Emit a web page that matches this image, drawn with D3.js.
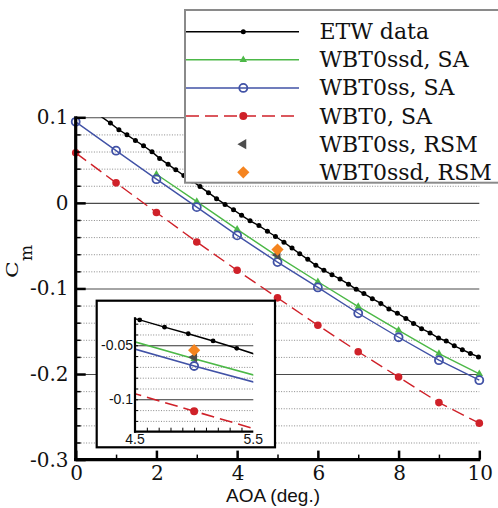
<!DOCTYPE html>
<html><head><meta charset="utf-8">
<script src="https://cdn.jsdelivr.net/npm/d3@7"></script>
<style>
html,body{margin:0;padding:0;background:#fff;}
svg{display:block;}
</style>
</head><body>
<svg id="chart" width="498" height="508"></svg>
<script>
// ---------- DATA ----------
const aoaCfd = [0,1,2,3,4,5,6,7,8,9,10];
const etwAoa = [0.45,0.86,1.07,1.27,1.48,1.68,1.89,2.08,2.29,2.48,2.68,2.89,3.08,3.29,3.49,3.70,3.91,4.11,4.32,4.54,4.75,4.95,5.16,5.36,5.55,5.75,5.95,6.15,6.35,6.55,6.76,6.95,7.14,7.35,7.56,7.76,7.97,8.18,8.37,8.57,8.78,8.99,9.18,9.38,9.58,9.78,9.98];
const etwCm  = [0.1068,0.0932,0.0854,0.0795,0.0729,0.0667,0.0596,0.052,0.045,0.0386,0.032,0.0257,0.019,0.0119,0.0049,-0.0018,-0.008,-0.0146,-0.021,-0.0265,-0.0332,-0.0393,-0.046,-0.0528,-0.0595,-0.066,-0.073,-0.0788,-0.084,-0.089,-0.095,-0.101,-0.106,-0.112,-0.1175,-0.124,-0.129,-0.135,-0.141,-0.147,-0.152,-0.158,-0.1614,-0.167,-0.1715,-0.176,-0.180];
const ssdSaAoa = [2,3,4,5,6,7,8,9,10];
const ssdSaCm  = [0.0334,0.0015,-0.031,-0.0625,-0.0922,-0.1212,-0.149,-0.1762,-0.1998];
const ssSaCm   = [0.0947,0.061,0.0277,-0.005,-0.038,-0.0692,-0.0988,-0.129,-0.157,-0.1838,-0.2072];
const t0SaCm   = [0.0585,0.0234,-0.0112,-0.0457,-0.0788,-0.111,-0.143,-0.174,-0.2035,-0.2334,-0.2574];
const ssRsmAoa = [5];
const ssRsmCm  = [-0.061];
const ssdRsmAoa = [5];
const ssdRsmCm  = [-0.0545];
const legendLabels = ["ETW data","WBT0ssd, SA","WBT0ss, SA","WBT0, SA","WBT0ss, RSM","WBT0ssd, RSM"];
const xMajorTicks = [0,2,4,6,8,10];
const xMinorTicks = [1,3,5,7,9];
const yMajorTicks = [0.1,0,-0.1,-0.2,-0.3];
const yTickLabels = ["0.1","0","-0.1","-0.2","-0.3"];
const yMinorTicks = [0.08,0.06,0.04,0.02,-0.02,-0.04,-0.06,-0.08,-0.12,-0.14,-0.16,-0.18,-0.22,-0.24,-0.26,-0.28];
const insetXTicks = [4.5,5.5];
const insetXMinor = [4.6,4.7,4.8,4.9,5.0,5.1,5.2,5.3,5.4];
const insetYMajor = [-0.05,-0.1];
const insetYLabels = ["-0.05","-0.1"];
const insetYMinor = [-0.03,-0.04,-0.06,-0.07,-0.08,-0.09,-0.11,-0.12];
const xLabel = "AOA (deg.)";
const yLabelMain = "C";
const yLabelSub = "m";

// ---------- STYLE ----------
const C = {etw:"#000000", ssd:"#4cb847", ss:"#4152a6", t0:"#cf2129", ssRsm:"#4d4d4d", ssdRsm:"#f5841f"};
const serif = "'DejaVu Serif', serif";
const sans = "'Liberation Sans', Arial, sans-serif";

const svg = d3.select("#chart");
const x = d3.scaleLinear([0,10],[75.7,479.3]);
const y = d3.scaleLinear([-0.3,0.1],[459.6,117.3]);

const defs = svg.append("defs");
defs.append("clipPath").attr("id","clipMainLine").append("rect")
  .attr("x",x(0)-6).attr("y",y(0.1)).attr("width",x(10)-x(0)+12).attr("height",y(-0.3)-y(0.1));

// grid
const W = x(10)-x(0);
const gMinor = svg.append("g").attr("transform",`translate(${x(0)},0)`)
  .call(d3.axisLeft(y).tickValues(yMinorTicks).tickSize(-W).tickFormat(""));
gMinor.select(".domain").remove();
gMinor.selectAll("line").attr("stroke","#8a8a8a").attr("stroke-width",1).attr("stroke-dasharray","1,1.6");
const gMajor = svg.append("g").attr("transform",`translate(${x(0)},0)`)
  .call(d3.axisLeft(y).tickValues(yMajorTicks).tickSize(-W).tickFormat(""));
gMajor.select(".domain").remove();
gMajor.selectAll("line").attr("stroke","#4a4a4a").attr("stroke-width",1.1);

// series drawer
function drawSeries(g, xs, ys, sx, sy, opt){
  const pts = xs.map((v,i)=>[sx(v), sy(ys[i])]);
  if(opt.line){
    g.append("path").attr("d", d3.line()(pts)).attr("fill","none")
     .attr("stroke",opt.color).attr("stroke-width",opt.lw||1.4)
     .attr("stroke-dasharray",opt.dash||null);
  }
  const m = g.append("g");
  pts.forEach(p=>{
    if(opt.marker==="dot"){
      m.append("circle").attr("cx",p[0]).attr("cy",p[1]).attr("r",opt.r).attr("fill",opt.color);
    } else if(opt.marker==="ocircle"){
      m.append("circle").attr("cx",p[0]).attr("cy",p[1]).attr("r",opt.r).attr("fill","none")
        .attr("stroke",opt.color).attr("stroke-width",opt.sw||2);
    } else if(opt.marker==="tri"){
      m.append("path").attr("d",d3.symbol(d3.symbolTriangle,opt.size)()).attr("fill",opt.color)
        .attr("transform",`translate(${p[0]},${p[1]})`);
    } else if(opt.marker==="ltri"){
      m.append("path").attr("d",d3.symbol(d3.symbolTriangle,opt.size)()).attr("fill",opt.color)
        .attr("transform",`translate(${p[0]},${p[1]}) rotate(-90)`);
    } else if(opt.marker==="diamond"){
      m.append("path").attr("d",d3.symbol(d3.symbolSquare,opt.size)()).attr("fill",opt.color)
        .attr("transform",`translate(${p[0]},${p[1]}) rotate(45)`);
    }
  });
}

const gData = svg.append("g").attr("clip-path","url(#clipMainLine)");
drawSeries(gData, etwAoa, etwCm, x, y, {line:true,color:C.etw,marker:"dot",r:2.5,lw:1.4});
drawSeries(gData, aoaCfd, t0SaCm, x, y, {line:true,color:C.t0,marker:"dot",r:3.8,lw:1.4,dash:"13,6"});
drawSeries(gData, ssdSaAoa, ssdSaCm, x, y, {line:true,color:C.ssd,marker:"tri",size:24,lw:1.4});
drawSeries(gData, aoaCfd, ssSaCm, x, y, {line:true,color:C.ss,marker:"ocircle",r:4,sw:1.8,lw:1.4});
drawSeries(gData, ssRsmAoa, ssRsmCm, x, y, {color:C.ssRsm,marker:"ltri",size:45});
drawSeries(gData, ssdRsmAoa, ssdRsmCm, x, y, {color:C.ssdRsm,marker:"diamond",size:75});

// axes
const gy = svg.append("g").attr("transform",`translate(${x(0)},0)`);
gy.call(d3.axisRight(y).tickValues(yMajorTicks).tickSize(10).tickFormat(""));
gy.selectAll("line").attr("stroke","#000").attr("stroke-width",2.5);
gy.select(".domain").remove();
const gy2 = svg.append("g").attr("transform",`translate(${x(0)},0)`);
gy2.call(d3.axisRight(y).tickValues(yMinorTicks).tickSize(5).tickFormat(""));
gy2.selectAll("line").attr("stroke","#000").attr("stroke-width",1.5);
gy2.select(".domain").remove();
const gx = svg.append("g").attr("transform",`translate(0,${y(-0.3)})`);
gx.call(d3.axisTop(x).tickValues(xMajorTicks).tickSize(9).tickFormat(""));
gx.selectAll("line").attr("stroke","#000").attr("stroke-width",2.5);
gx.select(".domain").remove();
const gx2 = svg.append("g").attr("transform",`translate(0,${y(-0.3)})`);
gx2.call(d3.axisTop(x).tickValues(xMinorTicks).tickSize(5).tickFormat(""));
gx2.selectAll("line").attr("stroke","#000").attr("stroke-width",1.5);
gx2.select(".domain").remove();

svg.append("line").attr("x1",x(0)).attr("x2",x(0)).attr("y1",y(0.1)-1).attr("y2",y(-0.3)+1.5)
  .attr("stroke","#000").attr("stroke-width",3.2);
svg.append("line").attr("x1",x(0)-1.5).attr("x2",x(10)+1).attr("y1",y(-0.3)).attr("y2",y(-0.3))
  .attr("stroke","#000").attr("stroke-width",3.2);

// tick labels
svg.append("g").selectAll("text").data(yMajorTicks).join("text")
  .attr("x",68.5).attr("y",d=>y(d)+7).attr("text-anchor","end")
  .attr("font-family",serif).attr("font-size",20).attr("fill","#111")
  .text((d,i)=>yTickLabels[i]);
svg.append("g").selectAll("text").data(xMajorTicks).join("text")
  .attr("x",d=>x(d)+1).attr("y",480).attr("text-anchor","middle")
  .attr("font-family",serif).attr("font-size",20).attr("fill","#111")
  .text(d=>d);

// axis titles
svg.append("text").attr("x",273).attr("y",502).attr("text-anchor","middle")
  .attr("font-family",sans).attr("font-size",19).attr("fill","#111").text(xLabel);
svg.append("text").attr("transform","translate(18,278) rotate(-90) scale(1.05,0.8)")
  .attr("font-family",serif).attr("font-size",21).attr("fill","#111").text(yLabelMain);
svg.append("text").attr("transform","translate(31.5,261) rotate(-90)")
  .attr("font-family",serif).attr("font-size",17).attr("fill","#111").text(yLabelSub);

// ---------- INSET ----------
svg.append("rect").attr("x",96.7).attr("y",300.7).attr("width",178.3).attr("height",146.6)
  .attr("fill","#fff").attr("stroke","#000").attr("stroke-width",2.2);
const ix = d3.scaleLinear([4.5,5.5],[135,253.3]);
const iy = d3.scaleLinear([-0.13,-0.024],[431.7,317.2]);
defs.append("clipPath").attr("id","clipInset").append("rect")
  .attr("x",ix(4.5)).attr("y",iy(-0.024)).attr("width",ix(5.5)-ix(4.5)).attr("height",iy(-0.13)-iy(-0.024));
const IW = ix(5.5)-ix(4.5);
const igMinor = svg.append("g").attr("transform",`translate(${ix(4.5)},0)`)
  .call(d3.axisLeft(iy).tickValues(insetYMinor).tickSize(-IW).tickFormat(""));
igMinor.select(".domain").remove();
igMinor.selectAll("line").attr("stroke","#8a8a8a").attr("stroke-width",1).attr("stroke-dasharray","1,1.6");
const igMajor = svg.append("g").attr("transform",`translate(${ix(4.5)},0)`)
  .call(d3.axisLeft(iy).tickValues(insetYMajor).tickSize(-IW).tickFormat(""));
igMajor.select(".domain").remove();
igMajor.selectAll("line").attr("stroke","#333").attr("stroke-width",1.1);

const giData = svg.append("g").attr("clip-path","url(#clipInset)");
drawSeries(giData, etwAoa, etwCm, ix, iy, {line:true,color:C.etw,marker:"dot",r:2.4,lw:1.5});
drawSeries(giData, aoaCfd, t0SaCm, ix, iy, {line:true,color:C.t0,marker:"dot",r:4,lw:1.6,dash:"13,6"});
drawSeries(giData, ssdSaAoa, ssdSaCm, ix, iy, {line:true,color:C.ssd,marker:"tri",size:24,lw:1.7});
drawSeries(giData, aoaCfd, ssSaCm, ix, iy, {line:true,color:C.ss,marker:"ocircle",r:4,sw:1.8,lw:1.7});
drawSeries(giData, ssRsmAoa, ssRsmCm, ix, iy, {color:C.ssRsm,marker:"ltri",size:45});
drawSeries(giData, ssdRsmAoa, ssdRsmCm, ix, iy, {color:C.ssdRsm,marker:"diamond",size:75});

const igy = svg.append("g").attr("transform",`translate(${ix(4.5)},0)`)
  .call(d3.axisRight(iy).tickValues(insetYMinor.concat(insetYMajor)).tickSize(3).tickFormat(""));
igy.select(".domain").remove();
igy.selectAll("line").attr("stroke","#000").attr("stroke-width",1);
const igx = svg.append("g").attr("transform",`translate(0,${iy(-0.13)})`)
  .call(d3.axisTop(ix).tickValues(insetXMinor).tickSize(4).tickFormat(""));
igx.select(".domain").remove();
igx.selectAll("line").attr("stroke","#000").attr("stroke-width",1);
svg.append("line").attr("x1",ix(4.5)).attr("x2",ix(4.5)).attr("y1",iy(-0.024)).attr("y2",iy(-0.13)+1)
  .attr("stroke","#000").attr("stroke-width",2.2);
svg.append("line").attr("x1",ix(4.5)-1).attr("x2",ix(5.5)).attr("y1",iy(-0.13)).attr("y2",iy(-0.13))
  .attr("stroke","#000").attr("stroke-width",2.2);
svg.append("g").selectAll("text").data(insetYMajor).join("text")
  .attr("x",133).attr("y",d=>iy(d)+5).attr("text-anchor","end")
  .attr("font-family",sans).attr("font-size",14).attr("fill","#111")
  .text((d,i)=>insetYLabels[i]);
svg.append("g").selectAll("text").data(insetXTicks).join("text")
  .attr("x",d=>ix(d)).attr("y",443.5).attr("text-anchor","middle")
  .attr("font-family",sans).attr("font-size",14).attr("fill","#111")
  .text(d=>d);

// ---------- LEGEND ----------
svg.append("rect").attr("x",185).attr("y",10).attr("width",330).attr("height",172.7)
  .attr("fill","#fff").attr("stroke","#8a8a8a").attr("stroke-width",2);
const legRows = [
  {c:C.etw, line:true, marker:"dot", r:2.5},
  {c:C.ssd, line:true, marker:"tri", size:24},
  {c:C.ss, line:true, marker:"ocircle", r:4},
  {c:C.t0, line:true, marker:"dot", r:4, dash:"13,6"},
  {c:C.ssRsm, line:false, marker:"ltri", size:45},
  {c:C.ssdRsm, line:false, marker:"diamond", size:75}
];
const legY = d3.scaleLinear([0,5],[31.7,172.3]);
legRows.forEach((row,i)=>{
  const g = svg.append("g");
  const yy = legY(i);
  if(row.line){
    g.append("line").attr("x1",186).attr("x2",299).attr("y1",yy).attr("y2",yy)
      .attr("stroke",row.c).attr("stroke-width",1.5).attr("stroke-dasharray",row.dash||null);
  }
  drawSeries(g, [0],[0], ()=>243.3, ()=>yy, {color:row.c, marker:row.marker, r:row.r, size:row.size, sw:1.8});
  g.append("text").attr("x",319.5).attr("y",yy+7.5).attr("font-family",serif).attr("font-size",22)
    .attr("fill","#111").text(legendLabels[i]);
});
</script>
</body></html>
